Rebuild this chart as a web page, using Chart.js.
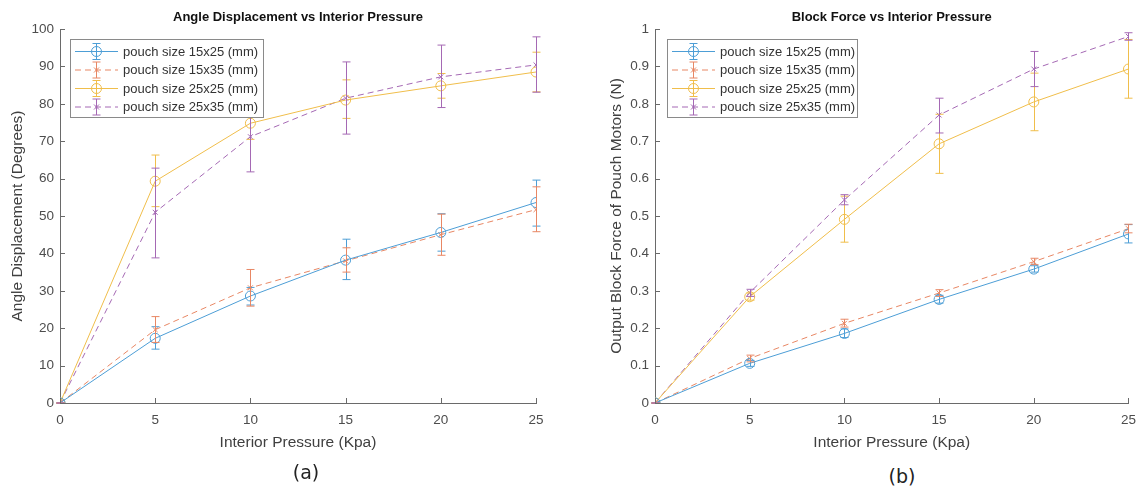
<!DOCTYPE html>
<html>
<head>
<meta charset="utf-8">
<script src="https://cdn.jsdelivr.net/npm/chart.js@4.4.0/dist/chart.umd.min.js"></script>
<style>
  body { margin: 0; background: #fff; width: 1145px; height: 493px; overflow: hidden; position: relative; }
  .box { position: absolute; top: 0; height: 462px; }
  .cap { position: absolute; font-family: "DejaVu Sans", sans-serif; font-size: 19px; color: #222; transform: translate(-50%, -50%); }
</style>
</head>
<body>
<div class="box" style="left:0;width:570px"><canvas id="angleChart"></canvas></div>
<div class="box" style="left:590px;width:555px"><canvas id="forceChart"></canvas></div>
<div class="cap" style="left:306px;top:472px">(a)</div>
<div class="cap" style="left:902px;top:476px">(b)</div>
<script>
const pressure = [0, 5, 10, 15, 20, 25];
const seriesLabels = ['pouch size 15x25 (mm)', 'pouch size 15x35 (mm)', 'pouch size 25x25 (mm)', 'pouch size 25x35 (mm)'];

// (a) angle displacement in degrees, with error bar ends
const angle15x25 = [0, 17.3, 28.6, 38.2, 45.6, 53.6];
const angle15x25Low = [0, 14.4, 26.2, 33.0, 40.6, 47.3];
const angle15x25High = [0, 20.4, 30.9, 43.8, 50.6, 59.6];
const angle15x35 = [0, 19.6, 30.8, 38.0, 45.0, 51.7];
const angle15x35Low = [0, 16.2, 25.9, 35.0, 39.5, 45.8];
const angle15x35High = [0, 23.1, 35.7, 41.5, 50.5, 57.8];
const angle25x25 = [0, 59.3, 74.8, 81.0, 84.8, 88.5];
const angle25x25Low = [0, 52.5, 70.5, 76.1, 81.5, 83.2];
const angle25x25High = [0, 66.3, 79.0, 86.4, 88.1, 93.8];
const angle25x35 = [0, 51.0, 71.2, 81.5, 87.2, 90.4];
const angle25x35Low = [0, 38.8, 61.8, 71.9, 79.0, 83.1];
const angle25x35High = [0, 62.8, 80.5, 91.2, 95.7, 97.9];

// (b) block force in N
const force15x25 = [0, 0.106, 0.186, 0.277, 0.358, 0.452];
const force15x25Low = [0, 0.098, 0.175, 0.267, 0.350, 0.428];
const force15x25High = [0, 0.114, 0.198, 0.288, 0.367, 0.477];
const force15x35 = [0, 0.119, 0.213, 0.294, 0.378, 0.466];
const force15x35Low = [0, 0.110, 0.203, 0.285, 0.370, 0.455];
const force15x35High = [0, 0.128, 0.224, 0.303, 0.387, 0.478];
const force25x25 = [0, 0.284, 0.491, 0.693, 0.805, 0.893];
const force25x25Low = [0, 0.275, 0.430, 0.614, 0.728, 0.815];
const force25x25High = [0, 0.294, 0.553, 0.772, 0.882, 0.972];
const force25x35 = [0, 0.295, 0.543, 0.770, 0.893, 0.980];
const force25x35Low = [0, 0.285, 0.530, 0.722, 0.846, 0.970];
const force25x35High = [0, 0.304, 0.557, 0.815, 0.940, 0.990];

const colors = ['rgb(77,158,214)', 'rgb(232,135,100)', 'rgb(240,190,75)', 'rgb(165,105,180)'];
const markers = ['circle', 'crossRot', 'circle', 'crossRot'];
const dashes = [[], [6, 4], [], [6, 4]];
const axisColor = '#6a6a6a';
const fontFamily = '"Liberation Sans", Arial, sans-serif';

function buildDatasets(values, lows, highs) {
  return values.map((v, i) => ({
    label: seriesLabels[i],
    data: v,
    low: lows[i],
    high: highs[i],
    borderColor: colors[i],
    backgroundColor: 'transparent',
    borderWidth: 1,
    borderDash: dashes[i],
    pointStyle: markers[i],
    pointRadius: markers[i] === 'circle' ? 5 : 3.5,
    pointBorderWidth: 1,
    pointBorderColor: colors[i],
    pointBackgroundColor: 'transparent',
    tension: 0
  }));
}

const errorBars = {
  id: 'errorBars',
  afterDatasetsDraw(chart) {
    const { ctx, scales: { x, y } } = chart;
    chart.data.datasets.forEach(ds => {
      ctx.save();
      ctx.strokeStyle = ds.borderColor;
      ctx.lineWidth = 1;
      ds.low.forEach((lo, i) => {
        const px = Math.round(x.getPixelForValue(chart.data.labels[i])) + 0.5;
        const top = y.getPixelForValue(ds.high[i]);
        const bot = y.getPixelForValue(lo);
        ctx.beginPath();
        ctx.moveTo(px, top); ctx.lineTo(px, bot);
        ctx.moveTo(px - 4, top); ctx.lineTo(px + 4, top);
        ctx.moveTo(px - 4, bot); ctx.lineTo(px + 4, bot);
        ctx.stroke();
      });
      ctx.restore();
    });
  }
};

// matlab style ticks pointing into the plot
const inwardTicks = {
  id: 'inwardTicks',
  afterDraw(chart) {
    const { ctx, chartArea, scales: { x, y } } = chart;
    ctx.save();
    ctx.strokeStyle = axisColor;
    ctx.lineWidth = 1;
    ctx.beginPath();
    x.ticks.forEach(t => {
      const px = Math.round(x.getPixelForValue(t.value)) + 0.5;
      ctx.moveTo(px, chartArea.bottom); ctx.lineTo(px, chartArea.bottom - 5);
    });
    y.ticks.forEach(t => {
      const py = Math.round(y.getPixelForValue(t.value)) + 0.5;
      ctx.moveTo(chartArea.left, py); ctx.lineTo(chartArea.left + 5, py);
    });
    ctx.stroke();
    ctx.restore();
  }
};

function drawMarker(ctx, style, cx, cy) {
  ctx.beginPath();
  if (style === 'circle') {
    ctx.arc(cx, cy, 5, 0, Math.PI * 2);
  } else {
    ctx.moveTo(cx - 2.5, cy - 2.5); ctx.lineTo(cx + 2.5, cy + 2.5);
    ctx.moveTo(cx - 2.5, cy + 2.5); ctx.lineTo(cx + 2.5, cy - 2.5);
  }
  ctx.stroke();
}

const boxLegend = {
  id: 'boxLegend',
  afterDraw(chart, args, opts) {
    const { ctx } = chart;
    ctx.save();
    ctx.fillStyle = '#fff';
    ctx.fillRect(opts.x, opts.y, opts.w, opts.h);
    ctx.strokeStyle = '#8a8a8a';
    ctx.lineWidth = 1;
    ctx.strokeRect(opts.x + 0.5, opts.y + 0.5, opts.w, opts.h);
    ctx.font = '13px ' + fontFamily;
    ctx.textBaseline = 'middle';
    chart.data.datasets.forEach((ds, i) => {
      const cy = opts.y + 12.5 + i * 18.5;
      const x0 = opts.x + 5, x1 = opts.x + 48, cx = (x0 + x1) / 2;
      ctx.strokeStyle = ds.borderColor;
      ctx.setLineDash(ds.borderDash);
      ctx.beginPath(); ctx.moveTo(x0, cy); ctx.lineTo(x1, cy); ctx.stroke();
      ctx.setLineDash([]);
      ctx.beginPath();
      ctx.moveTo(cx, cy - 8); ctx.lineTo(cx, cy + 8);
      ctx.moveTo(cx - 4, cy - 8); ctx.lineTo(cx + 4, cy - 8);
      ctx.moveTo(cx - 4, cy + 8); ctx.lineTo(cx + 4, cy + 8);
      ctx.stroke();
      drawMarker(ctx, ds.pointStyle, cx, cy);
      ctx.fillStyle = '#333';
      ctx.fillText(ds.label, opts.x + 53, cy + 0.5);
    });
    ctx.restore();
  }
};

function makeChart(id, titleText, yTitle, yMax, yStep, datasets, o) {
  return new Chart(document.getElementById(id), {
    type: 'line',
    data: { labels: pressure, datasets },
    options: {
      responsive: true,
      maintainAspectRatio: false,
      animation: false,
      layout: { padding: { left: 0, right: o.padRight, top: 0, bottom: 0 } },
      plugins: {
        legend: { display: false },
        tooltip: { enabled: false },
        title: {
          display: true,
          fullSize: false,
          text: titleText,
          color: '#111',
          font: { family: fontFamily, size: 13, weight: 'bold' },
          padding: { top: 9.5, bottom: 3.9 }
        },
        boxLegend: o.legend
      },
      scales: {
        x: {
          type: 'linear',
          min: 0,
          max: 25,
          afterFit: s => { s.height = 59; },
          grid: { display: false, drawTicks: false },
          border: { display: true, color: axisColor },
          ticks: { stepSize: 5, color: '#4d4d4d', padding: 9, font: { family: fontFamily, size: 13.5 } },
          title: {
            display: true,
            text: 'Interior Pressure (Kpa)',
            color: '#404040',
            font: { family: fontFamily, size: 15.5 },
            padding: { top: 0, bottom: 10 }
          }
        },
        y: {
          min: 0,
          max: yMax,
          afterFit: s => { s.width = o.yWidth; },
          grid: { display: false, drawTicks: false },
          border: { display: true, color: axisColor },
          ticks: {
            stepSize: yStep,
            color: '#4d4d4d',
            padding: 6,
            font: { family: fontFamily, size: 13.5 },
            callback: v => String(+v.toFixed(2))
          },
          title: {
            display: true,
            text: yTitle,
            color: '#404040',
            font: { family: fontFamily, size: 15.5 },
            padding: { top: o.yTitlePad, bottom: 0 }
          }
        }
      }
    },
    plugins: [errorBars, inwardTicks, boxLegend]
  });
}

makeChart('angleChart', 'Angle Displacement vs Interior Pressure', 'Angle Displacement (Degrees)', 100, 10,
  buildDatasets([angle15x25, angle15x35, angle25x25, angle25x35],
    [angle15x25Low, angle15x35Low, angle25x25Low, angle25x35Low],
    [angle15x25High, angle15x35High, angle25x25High, angle25x35High]),
  { padRight: 34, yWidth: 60, yTitlePad: 8.7, legend: { x: 70, y: 39, w: 193, h: 78 } });

makeChart('forceChart', 'Block Force vs Interior Pressure', 'Output Block Force of Pouch Motors (N)', 1, 0.1,
  buildDatasets([force15x25, force15x35, force25x25, force25x35],
    [force15x25Low, force15x35Low, force25x25Low, force25x35Low],
    [force15x25High, force15x35High, force25x25High, force25x35High]),
  { padRight: 13, yWidth: 65, yTitlePad: 17.7, legend: { x: 77, y: 39, w: 190, h: 78 } });
</script>
</body>
</html>
